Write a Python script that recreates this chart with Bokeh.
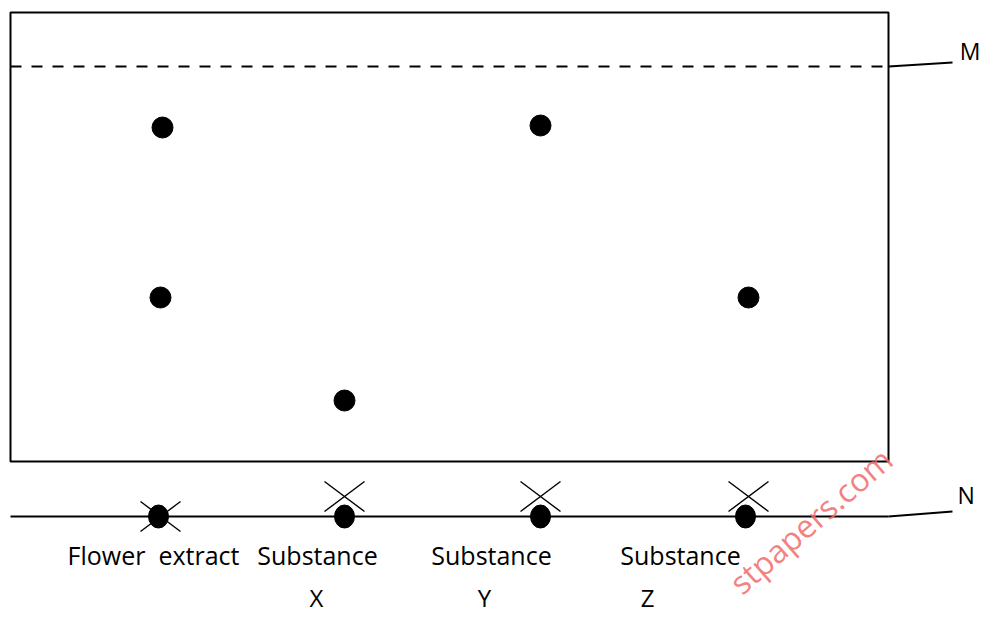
from bokeh.plotting import figure
from bokeh.models import Range1d
from bokeh.core.properties import value
from bokeh.embed import file_html
from bokeh.resources import INLINE
import math

# ---- data (distances measured upward from the baseline N) ----
lane_names = ["Flower\u00a0 extract", "Substance", "Substance", "Substance"]
lane_letters = ["X", "Y", "Z"]
lane_x = [158, 344, 540, 745]          # lane positions along the baseline
cross_x = [160, 344, 540, 748]
label_x = [153, 317, 491, 680]
letter_x = [316, 484, 647]

spot_x = [162, 160, 344, 540, 748]      # developed spots
spot_dist = [389, 219, 116, 391, 219]   # distance travelled
solvent_front = 450                      # line M

FONT = value("Open Sans")

# ---- layout (baseline / paper frame) ----
BASE_Y = 516
def up(d):
    return BASE_Y - d

W, H = 983, 615
p = figure(width=W, height=H, output_backend="svg", toolbar_location=None,
           x_range=Range1d(0, W), y_range=Range1d(H, 0),
           min_border=0, outline_line_color=None)
p.axis.visible = False
p.xgrid.visible = False
p.ygrid.visible = False
p.background_fill_color = "white"
p.border_fill_color = "white"

# paper frame
p.quad(left=[10], right=[888], top=[up(504)], bottom=[up(55)],
       fill_color=None, line_color="black", line_width=2)

# solvent front M
p.line([10, 888], [up(solvent_front)] * 2, line_color="black", line_width=1.8,
       line_dash="11 10")
p.line([888, 952], [up(solvent_front), up(solvent_front + 4)], line_color="black", line_width=1.8)
p.text([980], [up(solvent_front + 16)], text=["M"], text_font=FONT,
       text_font_size="23px", text_baseline="middle", text_align="right", text_color="black")

# baseline N
p.line([10, 888], [BASE_Y, BASE_Y], line_color="black", line_width=1.8)
p.line([888, 952], [BASE_Y, BASE_Y - 5], line_color="black", line_width=1.8)
p.text([957], [BASE_Y - 22], text=["N"], text_font=FONT,
       text_font_size="23px", text_baseline="middle", text_align="left", text_color="black")

# application crosses
cy = [516, 496, 496, 496]
for x, y in zip(cross_x, cy):
    p.segment(x0=[x - 20, x - 20], y0=[y - 15, y + 15], x1=[x + 20, x + 20], y1=[y + 15, y - 15],
              line_color="black", line_width=1.4)

# baseline spots
p.ellipse(x=lane_x, y=[BASE_Y] * 4, width=20, height=23, fill_color="black", line_color="black")

# developed spots
p.scatter(x=spot_x, y=[up(d) for d in spot_dist], size=21, marker="circle",
          fill_color="black", line_color="black")

# labels
p.text(label_x, [554] * 4, text=lane_names, text_font=FONT, text_font_size="25px",
       text_align="center", text_baseline="middle", text_color="black")
p.text(letter_x, [597] * 3, text=lane_letters, text_font=FONT, text_font_size="24px",
       text_align="center", text_baseline="middle", text_color="black")

# watermark
p.text([810], [520], text=["stpapers.com"], text_font=FONT, text_font_size="32px",
       text_align="center", text_baseline="middle", text_color="#f26a6a", text_alpha=0.85,
       angle=math.radians(41))

open("out.html", "w").write(file_html(p, INLINE))
